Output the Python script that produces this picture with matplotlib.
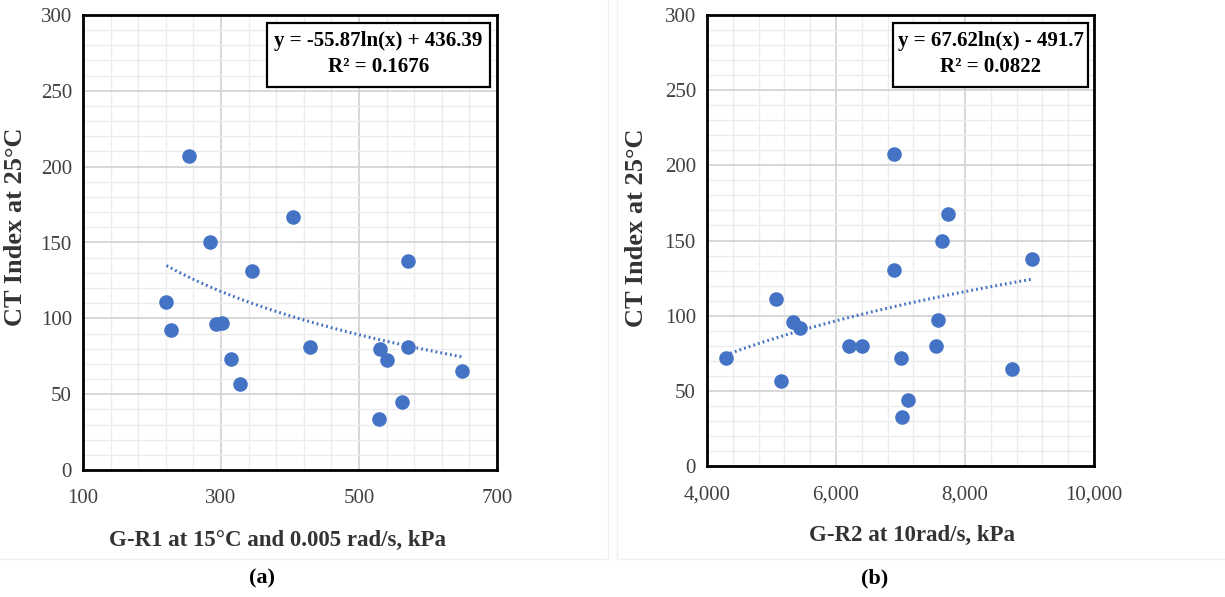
import numpy as np
import matplotlib
matplotlib.use("Agg")
import matplotlib.pyplot as plt
from matplotlib.ticker import FuncFormatter
from matplotlib.patches import Rectangle

plt.rcParams['font.family'] = ['Liberation Serif', 'DejaVu Serif']

# datos
ct_index = [207, 150, 131, 167, 138, 111, 92, 96, 97, 73, 57, 81, 80, 72.5, 81, 65.5, 44.6, 33.6]
gr1 = [254, 284, 345, 405, 571, 221, 228, 293, 302, 315, 328, 429, 530, 541, 571, 649, 562, 529]

ct_index_b = [207.5, 167.4, 149.6, 130.7, 137.6, 111.4, 95.9, 91.9, 80.1, 79.7, 71.9, 96.8, 79.7, 64.4, 56.6, 44.2, 32.9, 71.9]
gr2 = [6901, 7733, 7645, 6901, 9044, 5069, 5332, 5445, 6209, 6406, 7010, 7583, 7547, 8729, 5151, 7123, 7025, 4289]

xticks_a = [100, 300, 500, 700]
xticks_b = [4000, 6000, 8000, 10000]
yticks = [0, 50, 100, 150, 200, 250, 300]

# coeficientes de la linea de tendencia (y = a ln(x) + b)
coef_a = (-55.87, 436.39)
coef_b = (67.62, -491.7)
eq_a = "y = -55.87ln(x) + 436.39\nR² = 0.1676"
eq_b = "y = 67.62ln(x) - 491.7\nR² = 0.0822"

W, H = 1225, 597
fig = plt.figure(figsize=(W / 100, H / 100), dpi=100)
fig.patch.set_facecolor('white')

azul = '#4472C4'


def px_box(l, t, r, b):
    return [l / W, (H - b) / H, (r - l) / W, (b - t) / H]


def panel(pos, x, y, coef, eq, xticks, xlabel, xl_pos, yl_pos, letter, letter_x, box, fmt, area):
    # marco muy tenue del area del grafico
    al, at, ar, ab = area
    fig.patches.append(Rectangle((al / W, (H - ab) / H), (ar - al) / W, (ab - at) / H,
                                 transform=fig.transFigure, facecolor='none',
                                 edgecolor='#f0f0f0', lw=1.0, zorder=0))
    ax = fig.add_axes(px_box(*pos))
    ax.scatter(x, y, s=110, color=azul, zorder=3, linewidths=0)
    xs = np.linspace(min(x), max(x), 200)
    ax.plot(xs, coef[0] * np.log(xs) + coef[1], color=azul, lw=2.2,
            linestyle=(0, (0.6, 1.0)), zorder=2)
    ax.set_xlim(xticks[0], xticks[-1])
    ax.set_ylim(0, 300)
    ax.set_xticks(xticks)
    step = (xticks[1] - xticks[0]) / 5
    ax.set_xticks(np.arange(xticks[0], xticks[-1] + step / 2, step), minor=True)
    ax.set_yticks(yticks)
    ax.set_yticks(np.arange(0, 301, 10), minor=True)
    ax.xaxis.set_major_formatter(FuncFormatter(fmt))
    ax.grid(which='major', color='#d4d4d4', lw=1.3, zorder=0)
    ax.grid(which='minor', color='#ececec', lw=1.0, zorder=0)
    ax.set_axisbelow(True)
    ax.tick_params(which='both', length=0, labelsize=15, labelcolor='#404040')
    ax.tick_params(axis='x', pad=14)
    ax.tick_params(axis='y', pad=8)
    for s in ax.spines.values():
        s.set_linewidth(2.0)
        s.set_color('black')
    ax.set_xlabel(xlabel, fontsize=16.5, fontweight='bold', color='#333333')
    ax.set_ylabel('CT Index at 25°C', fontsize=19, fontweight='bold', color='#333333')
    ax.xaxis.set_label_coords(*xl_pos)
    ax.xaxis.label.set_va('center')
    ax.yaxis.set_label_coords(*yl_pos)
    ax.yaxis.label.set_va('center')
    # caja con la ecuacion
    bl, bt, br, bb = box
    fig.patches.append(Rectangle((bl / W, (H - bb) / H), (br - bl) / W, (bb - bt) / H,
                                 transform=fig.transFigure, facecolor='white',
                                 edgecolor='black', lw=1.6, zorder=5))
    fig.text((bl + br) / 2 / W, (H - (bt + bb) / 2) / H + 0.002, eq, ha='center', va='center',
             fontsize=15, fontweight='bold', linespacing=1.4, zorder=6)
    fig.text(letter_x / W, (H - 578) / H, letter, ha='center', va='center',
             fontsize=16, fontweight='bold')
    return ax


panel((83, 15, 497, 470), gr1, ct_index, coef_a, eq_a, xticks_a,
      'G-R1 at 15°C and 0.005 rad/s, kPa', (0.471, -0.154), (-0.162, 0.534),
      '(a)', 262, (267, 23, 490, 87), lambda v, p: '%d' % v, (-2, -2, 608, 559))
panel((707, 15, 1094, 466), gr2, ct_index_b, coef_b, eq_b, xticks_b,
      'G-R2 at 10rad/s, kPa', (0.530, -0.153), (-0.181, 0.528),
      '(b)', 875, (893, 23, 1088, 87), lambda v, p: '{:,.0f}'.format(v), (617, -2, 1230, 559))

fig.savefig('out.png', dpi=100)
